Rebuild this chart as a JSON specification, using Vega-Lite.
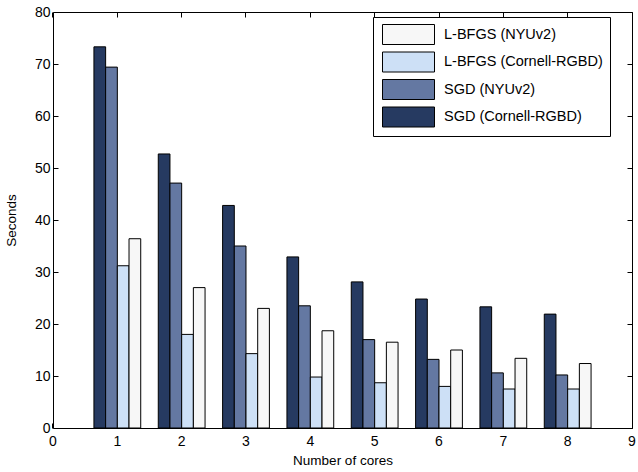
{
  "$schema": "https://vega.github.io/schema/vega-lite/v6.json",
  "width": 579,
  "height": 416,
  "autosize": {"type": "none"},
  "padding": {"left": 53, "top": 12, "right": 6, "bottom": 44},
  "background": "white",
  "config": {
    "font": "Liberation Sans",
    "view": {"stroke": "black", "strokeWidth": 1},
    "axis": {
      "domain": false,
      "tickColor": "black",
      "labelColor": "black",
      "titleColor": "black",
      "titleFontWeight": "normal",
      "grid": false,
      "labelFontSize": 14,
      "titleFontSize": 13.5,
      "tickSize": -5
    }
  },
  "data": {
    "values": [
      {"cores": "1", "method": "SGD (Cornell-RGBD)", "seconds": 73.3},
      {"cores": "1", "method": "SGD (NYUv2)", "seconds": 69.4},
      {"cores": "1", "method": "L-BFGS (Cornell-RGBD)", "seconds": 31.2},
      {"cores": "1", "method": "L-BFGS (NYUv2)", "seconds": 36.4},
      {"cores": "2", "method": "SGD (Cornell-RGBD)", "seconds": 52.7},
      {"cores": "2", "method": "SGD (NYUv2)", "seconds": 47.1},
      {"cores": "2", "method": "L-BFGS (Cornell-RGBD)", "seconds": 18.0},
      {"cores": "2", "method": "L-BFGS (NYUv2)", "seconds": 27.0},
      {"cores": "3", "method": "SGD (Cornell-RGBD)", "seconds": 42.8},
      {"cores": "3", "method": "SGD (NYUv2)", "seconds": 35.0},
      {"cores": "3", "method": "L-BFGS (Cornell-RGBD)", "seconds": 14.3},
      {"cores": "3", "method": "L-BFGS (NYUv2)", "seconds": 23.0},
      {"cores": "4", "method": "SGD (Cornell-RGBD)", "seconds": 32.9},
      {"cores": "4", "method": "SGD (NYUv2)", "seconds": 23.5},
      {"cores": "4", "method": "L-BFGS (Cornell-RGBD)", "seconds": 9.8},
      {"cores": "4", "method": "L-BFGS (NYUv2)", "seconds": 18.7},
      {"cores": "5", "method": "SGD (Cornell-RGBD)", "seconds": 28.1},
      {"cores": "5", "method": "SGD (NYUv2)", "seconds": 17.0},
      {"cores": "5", "method": "L-BFGS (Cornell-RGBD)", "seconds": 8.7},
      {"cores": "5", "method": "L-BFGS (NYUv2)", "seconds": 16.5},
      {"cores": "6", "method": "SGD (Cornell-RGBD)", "seconds": 24.8},
      {"cores": "6", "method": "SGD (NYUv2)", "seconds": 13.2},
      {"cores": "6", "method": "L-BFGS (Cornell-RGBD)", "seconds": 8.0},
      {"cores": "6", "method": "L-BFGS (NYUv2)", "seconds": 15.0},
      {"cores": "7", "method": "SGD (Cornell-RGBD)", "seconds": 23.3},
      {"cores": "7", "method": "SGD (NYUv2)", "seconds": 10.6},
      {"cores": "7", "method": "L-BFGS (Cornell-RGBD)", "seconds": 7.5},
      {"cores": "7", "method": "L-BFGS (NYUv2)", "seconds": 13.4},
      {"cores": "8", "method": "SGD (Cornell-RGBD)", "seconds": 21.9},
      {"cores": "8", "method": "SGD (NYUv2)", "seconds": 10.2},
      {"cores": "8", "method": "L-BFGS (Cornell-RGBD)", "seconds": 7.5},
      {"cores": "8", "method": "L-BFGS (NYUv2)", "seconds": 12.4}
    ]
  },
  "layer": [
    {
      "mark": {"type": "bar", "stroke": "black", "strokeWidth": 1},
      "encoding": {
        "x": {
          "field": "cores",
          "type": "ordinal",
          "scale": {"domain": ["0","1","2","3","4","5","6","7","8","9"], "paddingInner": 0, "paddingOuter": 0, "range": [-32.17, 611.17]},
          "axis": {"orient": "bottom", "title": "Number of cores", "labelAngle": 0, "bandPosition": 0.5, "labelPadding": 11, "titlePadding": 5}
        },
        "xOffset": {
          "field": "method",
          "type": "nominal",
          "scale": {"domain": ["SGD (Cornell-RGBD)", "SGD (NYUv2)", "L-BFGS (Cornell-RGBD)", "L-BFGS (NYUv2)"], "paddingInner": 0, "paddingOuter": 0.75}
        },
        "y": {
          "field": "seconds",
          "type": "quantitative",
          "scale": {"domain": [0, 80], "nice": false},
          "axis": {"orient": "left", "title": "Seconds", "values": [0,10,20,30,40,50,60,70,80], "labelPadding": 8, "titlePadding": 16}
        },
        "color": {
          "field": "method",
          "type": "nominal",
          "scale": {
            "domain": ["L-BFGS (NYUv2)", "L-BFGS (Cornell-RGBD)", "SGD (NYUv2)", "SGD (Cornell-RGBD)"],
            "range": ["#f7f7f7", "#cde0f6", "#6478a2", "#263a61"]
          },
          "legend": {
            "title": null,
            "orient": "none",
            "legendX": 320,
            "legendY": 5,
            "fillColor": "white",
            "strokeColor": "black",
            "padding": 7,
            "symbolType": "M-2.6,-1H2.6V1H-2.6Z",
            "symbolSize": 400,
            "symbolOffset": 18,
            "symbolStrokeColor": "black",
            "symbolStrokeWidth": 1,
            "symbolOpacity": 1,
            "labelFontSize": 14.5,
            "labelColor": "black",
            "labelOffset": 25,
            "rowPadding": 2.5
          }
        }
      }
    },
    {
      "mark": {"type": "point", "opacity": 0},
      "encoding": {
        "x": {
          "field": "cores",
          "type": "ordinal",
          "axis": {"orient": "top", "title": null, "labels": false, "bandPosition": 0.5}
        },
        "y": {
          "field": "seconds",
          "type": "quantitative",
          "axis": {"orient": "right", "title": null, "labels": false, "values": [0,10,20,30,40,50,60,70,80]}
        }
      }
    }
  ],
  "resolve": {"axis": {"x": "independent", "y": "independent"}}
}
